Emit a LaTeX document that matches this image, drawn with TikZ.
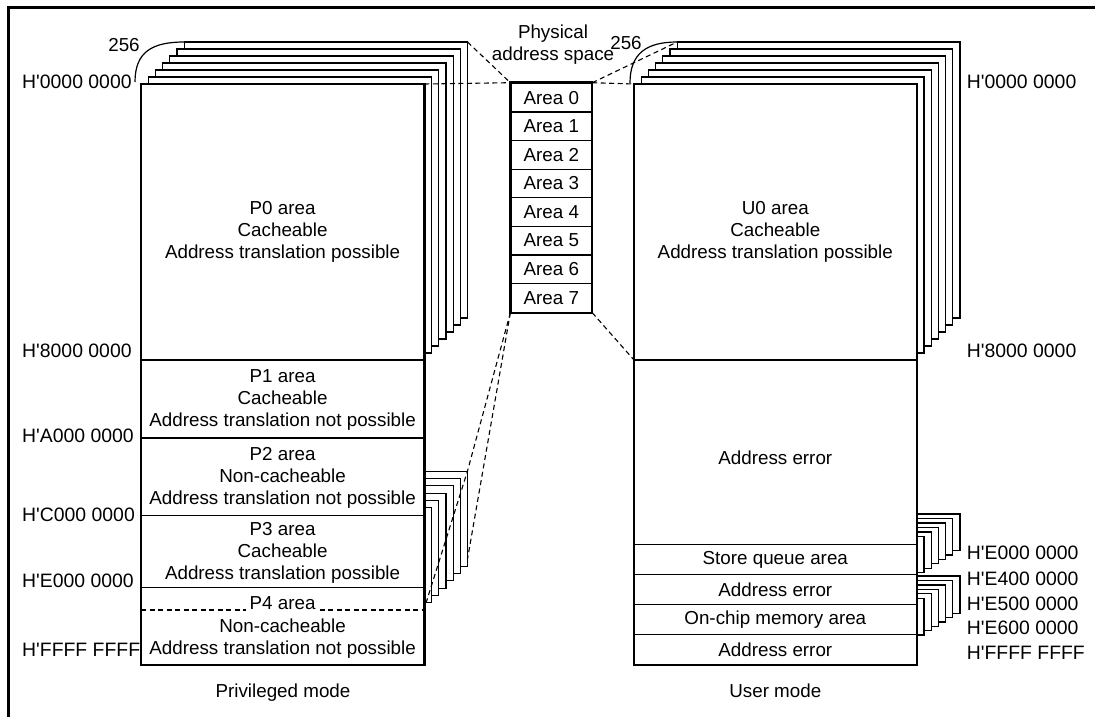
\documentclass[tikz,border=0pt]{standalone}
\usepackage{fontspec}
\setmainfont{Liberation Sans}
\newcommand{\hq}{H\textquotesingle}
\begin{document}
\begin{tikzpicture}[x=1pt,y=-1pt,
    txt/.style={font=\fontsize{18.8}{22}\selectfont,inner sep=0pt,align=center},
    addr/.style={txt,font=\fontsize{19.4}{22}\selectfont,anchor=west},
    boxline/.style={line width=2.4pt},
    divline/.style={line width=1.2pt},
    pagebox/.style={draw,line width=1.2pt,fill=white},
    mapline/.style={line width=1.1pt,dash pattern=on 5pt off 3.5pt},
    areabox/.style={draw,line width=1.2pt,minimum width=80.7pt,minimum height=28.6pt,
      inner sep=0pt,font=\fontsize{18.8}{22}\selectfont}]
\useasboundingbox (0,0) rectangle (1095,717);
\draw[line width=3pt] (8,717) -- (8,8) -- (1095,8);

% stacks of pages behind the areas
\foreach \k in {6,...,1} {
  \draw[pagebox] ({141+7.2*\k},{84-7*\k}) rectangle ({424.3+7.2*\k},{360-7*\k});
  \draw[pagebox] ({634+7.2*\k},{84-7*\k}) rectangle ({916.7+7.2*\k},{360-7*\k});
  \draw[pagebox] ({300+7.25*\k},{515-7.3*\k}) rectangle ({424.3+7.25*\k},{610-7.3*\k});
  \draw[pagebox] ({850+7.2*\k},{541-4.5*\k}) rectangle ({916.7+7.2*\k},{577-4.4*\k});
  \draw[pagebox] ({850+7.2*\k},{602.7-4.45*\k}) rectangle ({916.7+7.2*\k},{639.4-4.35*\k});
}

% privileged mode
\draw[boxline,fill=white] (141,84) rectangle (424.3,665);
\draw[boxline] (141,360) -- (424.3,360);
\draw[divline] (141,438) -- (424.3,438);
\draw[divline] (141,515.7) -- (424.3,515.7);
\draw[divline] (141,587.7) -- (424.3,587.7);
\draw[mapline] (141,610) -- (424.3,610);
\node[txt] (p0) at (282.6,232) {P0 area\\Cacheable\\Address translation possible};
\node[txt] (p1) at (282.6,399.5) {P1 area\\Cacheable\\Address translation not possible};
\node[txt] (p2) at (282.6,477.5) {P2 area\\Non-cacheable\\Address translation not possible};
\node[txt] (p3) at (282.6,552.5) {P3 area\\Cacheable\\Address translation possible};
\node[txt,fill=white,inner xsep=4pt,inner ysep=1pt] (p4) at (282.6,603) {P4 area};
\node[txt] (p4b) at (282.6,639) {Non-cacheable\\Address translation not possible};
\node[txt,anchor=base] (priv) at (283,697) {Privileged mode};

% user mode
\draw[boxline,fill=white] (634,84) rectangle (916.7,665);
\draw[boxline] (634,360) -- (916.7,360);
\draw[divline] (634,544.3) -- (916.7,544.3);
\draw[divline] (634,574.7) -- (916.7,574.7);
\draw[divline] (634,604.7) -- (916.7,604.7);
\draw[divline] (634,634.7) -- (916.7,634.7);
\node[txt] (u0) at (775.3,232) {U0 area\\Cacheable\\Address translation possible};
\node[txt] (uerr) at (775.3,458) {Address error};
\node[txt] (sq) at (775.3,559.5) {Store queue area};
\node[txt] (uerr2) at (775.3,589.7) {Address error};
\node[txt] (ocm) at (775.3,619.7) {On-chip memory area};
\node[txt] (uerr3) at (775.3,649.7) {Address error};
\node[txt,anchor=base] (user) at (775.3,697) {User mode};

% addresses
\node[addr] (la0) at (22,82) {\hq0000 0000};
\node[addr] (la8) at (22,351) {\hq8000 0000};
\node[addr] (laA) at (22,436) {\hq A000 0000};
\node[addr] (laC) at (22,515) {\hq C000 0000};
\node[addr] (laE) at (22,581) {\hq E000 0000};
\node[addr] (laF) at (22,650) {\hq FFFF FFFF};
\node[addr] (ra0) at (966.7,82) {\hq0000 0000};
\node[addr] (ra8) at (966.7,351) {\hq8000 0000};
\node[addr] (raE0) at (966.7,553) {\hq E000 0000};
\node[addr] (raE4) at (966.7,578.5) {\hq E400 0000};
\node[addr] (raE5) at (966.7,603.5) {\hq E500 0000};
\node[addr] (raE6) at (966.7,628) {\hq E600 0000};
\node[addr] (raF) at (966.7,652.5) {\hq FFFF FFFF};

% physical address space
\node[txt] (phys) at (553,45) {Physical\\address space};
\foreach \i in {0,...,7}
  \node[areabox] (area\i) at (551.3,{97.6+28.6*\i}) {Area \i};
\draw[boxline] (area0.north west) rectangle (area7.south east);

% 256 pages
\coordinate (ptop) at (184.2,42);
\coordinate (utop) at (677.2,42);
\draw[divline] (135,82) .. controls (135,52) and (152,42) .. (ptop);
\draw[divline] (630,83) .. controls (630,53) and (647,42) .. (utop);
\node[txt] (n256l) at (124,45) {256};
\node[txt] (n256r) at (626,43) {256};

% mapping lines
\coordinate (pne) at (424.3,84);
\coordinate (pstk) at (467.5,42);
\coordinate (unw) at (634,84);
\coordinate (u8) at (634,360);
\coordinate (p4top) at (467.5,471);
\coordinate (p4in) at (426,603);
\coordinate (p4bot) at (467.5,559);
\draw[mapline] (pne) -- (area0.north west);
\draw[mapline] (pstk) -- (area0.north west);
\draw[mapline] (area0.north east) -- (unw);
\draw[mapline] (area0.north east) -- (utop);
\draw[mapline] (area7.south east) -- (u8);
\draw[mapline] (area7.south west) -- (p4top) -- (p4in);
\draw[mapline] (area7.south west) -- (p4bot);
\end{tikzpicture}
\end{document}
